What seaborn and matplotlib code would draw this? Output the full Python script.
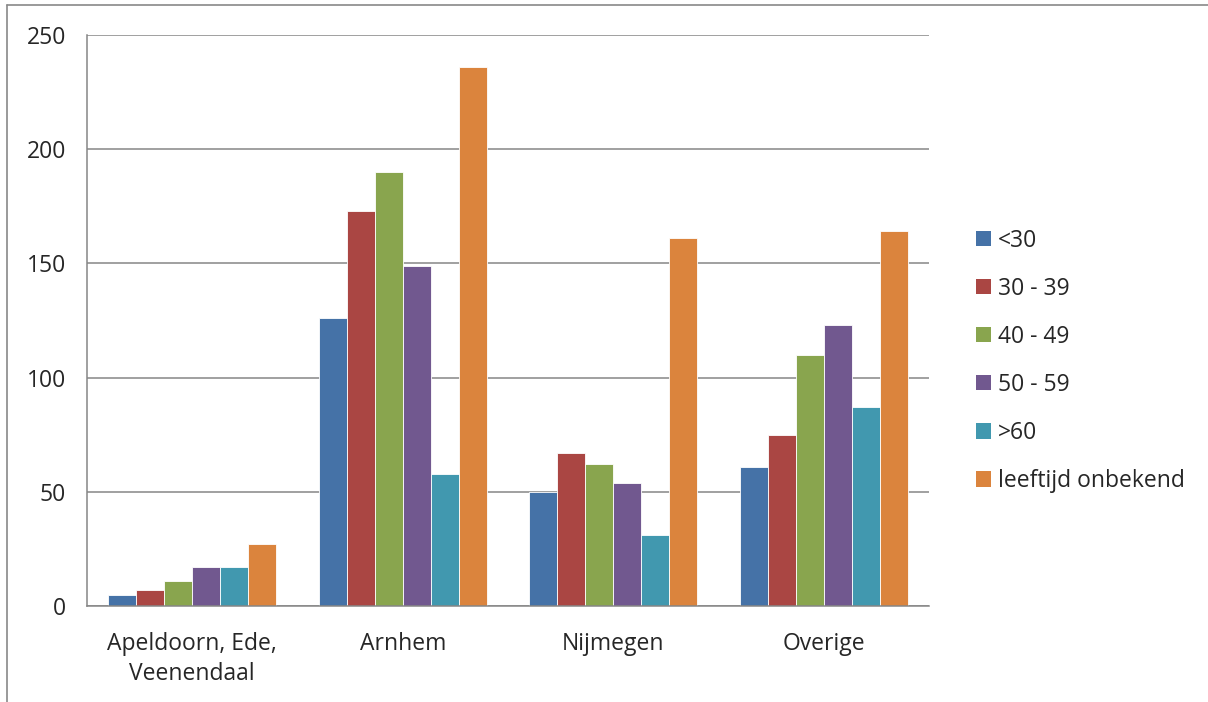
import pandas as pd
import matplotlib.pyplot as plt
import seaborn as sns
from matplotlib.lines import Line2D
from matplotlib.patches import Patch

# data
regions = ['Apeldoorn, Ede,\nVeenendaal', 'Arnhem', 'Nijmegen', 'Overige']
age_groups = ['<30', '30 - 39', '40 - 49', '50 - 59', '>60', 'leeftijd onbekend']
under_30 = [5, 126, 50, 61]
age_30_39 = [7, 173, 67, 75]
age_40_49 = [11, 190, 62, 110]
age_50_59 = [17, 149, 54, 123]
over_60 = [17, 58, 31, 87]
unknown = [27, 236, 161, 164]
colors = ['#4572A7', '#AA4643', '#89A54E', '#71588F', '#4198AF', '#DB843D']

series = [under_30, age_30_39, age_40_49, age_50_59, over_60, unknown]
rows = []
for grp, vals in zip(age_groups, series):
    for reg, v in zip(regions, vals):
        rows.append({'Regio': reg, 'Leeftijd': grp, 'Aantal': v})
df = pd.DataFrame(rows)

sns.set_style('white')
plt.rcParams['font.family'] = ['Open Sans', 'DejaVu Sans']
fs = 16.5

fig = plt.figure(figsize=(12.08, 7.02), dpi=100)
ax = fig.add_axes([87 / 1208, 1 - 606 / 702, (929 - 87) / 1208, (606 - 35) / 702])

sns.barplot(data=df, x='Regio', y='Aantal', hue='Leeftijd', order=regions,
            hue_order=age_groups, palette=colors, width=0.8, saturation=1,
            edgecolor='white', linewidth=0.6, ax=ax, legend=False)

grid_c = '#868686'
ax.set_ylim(0, 250)
ax.set_yticks(range(0, 251, 50))
ax.set_xlim(-0.5, 3.5)
ax.yaxis.grid(True, color=grid_c, linewidth=1.1)
ax.set_axisbelow(True)
for s in ['top', 'right']:
    ax.spines[s].set_visible(False)
for s in ['left', 'bottom']:
    ax.spines[s].set_color(grid_c)
    ax.spines[s].set_linewidth(1.1)

ax.set_xlabel('')
ax.set_ylabel('')
ax.tick_params(axis='y', length=6, color=grid_c, width=1.1, labelsize=fs, pad=9)
ax.tick_params(axis='x', which='major', length=0, labelsize=fs, pad=19)
ax.set_xticks([-0.5, 0.5, 1.5, 2.5, 3.5], minor=True)
ax.tick_params(axis='x', which='minor', length=7, color=grid_c, width=1.1, direction='out')
ax.set_xticks(range(len(regions)))
ax.set_xticklabels(regions, linespacing=1.3)

handles = [Patch(facecolor=c, edgecolor='none') for c in colors]
fig.legend(handles, age_groups, loc='upper left', bbox_to_anchor=(955 / 1208, 1 - 208 / 702),
           frameon=False, fontsize=fs, handlelength=0.66, handleheight=0.66,
           handletextpad=0.3, labelspacing=1.05)

# outer chart border (cropped at right and bottom)
fig.add_artist(Line2D([7 / 1208, 7 / 1208], [0, 1 - 5 / 702], color='#898989', linewidth=1.2))
fig.add_artist(Line2D([7 / 1208, 1], [1 - 5 / 702, 1 - 5 / 702], color='#898989', linewidth=1.2))

fig.savefig('out.png', dpi=100)
